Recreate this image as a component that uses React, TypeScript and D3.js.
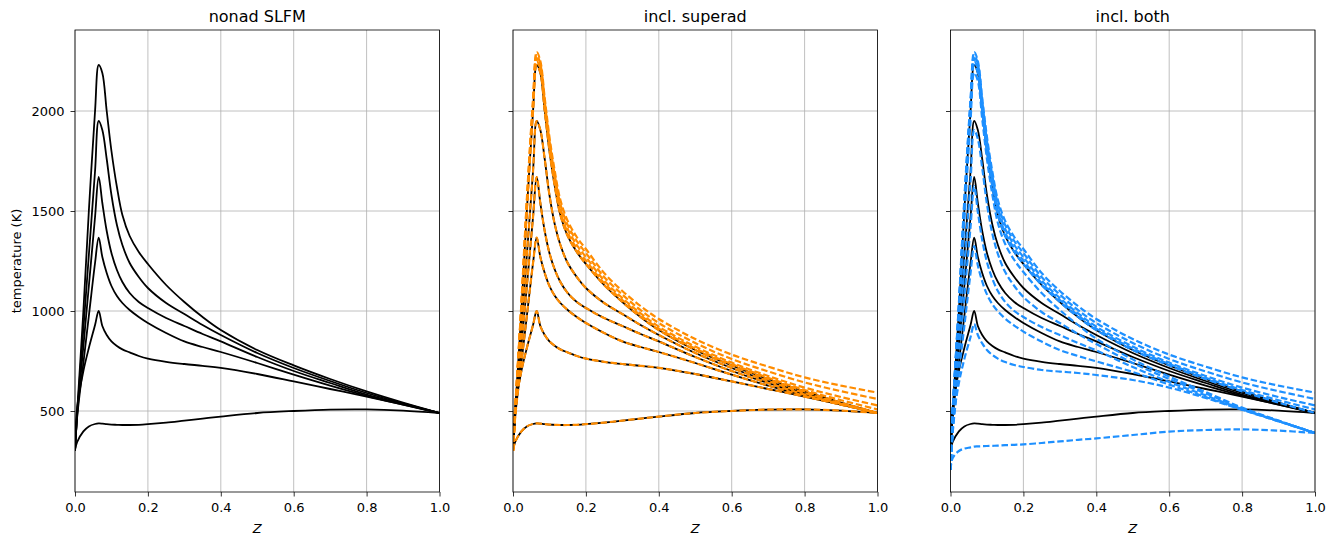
import React, { useEffect, useRef } from 'react';
import * as d3 from 'd3';

// mixture fraction grid shared by all flamelets
const zGrid = [0, 0.006, 0.023, 0.038, 0.055, 0.065, 0.075, 0.087, 0.1, 0.115, 0.13, 0.15, 0.175, 0.2, 0.25, 0.3, 0.35, 0.4, 0.5, 0.6, 0.7, 0.8, 0.9, 1];

// nonadiabatic SLFM temperatures (K), one per strain rate
const tA = [300, 500, 1000, 1500, 2000, 2230, 2190, 2000, 1800, 1620, 1480, 1375, 1295, 1235, 1130, 1045, 970, 905, 805, 728, 660, 598, 542, 490];
const tB = [300, 490, 910, 1280, 1700, 1950, 1905, 1760, 1580, 1430, 1330, 1240, 1170, 1115, 1040, 985, 930, 880, 790, 715, 650, 590, 538, 490];
const tC = [300, 480, 823, 1125, 1470, 1670, 1540, 1400, 1290, 1205, 1145, 1090, 1045, 1015, 965, 925, 885, 848, 770, 700, 640, 582, 535, 490];
const tD = [300, 470, 740, 975, 1240, 1367, 1270, 1190, 1125, 1075, 1040, 1005, 970, 940, 890, 848, 820, 795, 740, 682, 627, 576, 532, 490];
const tE = [300, 520, 700, 815, 930, 1000, 925, 880, 848, 825, 808, 793, 775, 762, 746, 735, 726, 716, 685, 648, 610, 572, 532, 490];
const tF = [305, 345, 398, 423, 435, 438, 437, 434, 432, 431, 430, 430, 431, 434, 442, 452, 462, 472, 490, 500, 507, 508, 502, 490];

// superadiabatic flamelets (heat gain)
const tO1 = [300, 510, 1040, 1560, 2060, 2295, 2250, 2065, 1870, 1695, 1555, 1450, 1370, 1310, 1190, 1100, 1025, 960, 860, 782, 722, 668, 627, 592];
const tO2 = [300, 505, 1030, 1545, 2045, 2280, 2235, 2050, 1850, 1675, 1535, 1430, 1350, 1290, 1170, 1082, 1005, 940, 840, 760, 698, 643, 599, 560];
const tO3 = [300, 505, 1020, 1530, 2030, 2265, 2220, 2035, 1835, 1655, 1515, 1410, 1330, 1270, 1152, 1065, 988, 922, 822, 742, 675, 617, 570, 528];
const tO4 = [300, 500, 1010, 1515, 2015, 2250, 2205, 2018, 1818, 1638, 1498, 1392, 1312, 1252, 1140, 1055, 978, 912, 812, 735, 666, 605, 554, 508];

// heat loss flamelets
const tHA = [205, 420, 950, 1450, 1950, 2190, 2150, 1960, 1760, 1580, 1440, 1335, 1255, 1195, 1090, 1005, 930, 862, 758, 672, 595, 517, 452, 390];
const tHB = [205, 410, 860, 1230, 1650, 1905, 1860, 1715, 1535, 1385, 1285, 1195, 1125, 1070, 995, 940, 885, 835, 740, 660, 588, 512, 451, 390];
const tHC = [205, 400, 775, 1075, 1420, 1625, 1495, 1355, 1245, 1160, 1100, 1045, 1000, 970, 920, 880, 840, 803, 720, 645, 578, 510, 450, 390];
const tHD = [205, 390, 690, 925, 1190, 1325, 1228, 1148, 1083, 1033, 998, 962, 927, 897, 847, 805, 775, 748, 695, 632, 570, 507, 449, 390];
const tHE = [205, 430, 640, 760, 870, 935, 880, 838, 805, 780, 762, 745, 730, 720, 705, 697, 690, 680, 655, 617, 565, 506, 448, 390];
const tHF = [205, 265, 300, 312, 318, 322, 323, 324, 325, 326, 327, 329, 331, 333, 340, 348, 356, 363, 380, 397, 405, 408, 402, 390];

const panelTitles = ['nonad SLFM', 'incl. superad', 'incl. both'];
const xTicks = [0, 0.2, 0.4, 0.6, 0.8, 1.0];
const yTicks = [500, 1000, 1500, 2000];

const blackSet = [tA, tB, tC, tD, tE, tF];
const superSet = [tO1, tO2, tO3, tO4, tA, tB, tC, tD, tE, tF];
const bothSet = [tO1, tO2, tO3, tO4, tA, tHA, tHB, tHC, tHD, tHE, tHF];

const App: React.FC = () => {
  const svgRef = useRef<SVGSVGElement>(null);

  useEffect(() => {
    if (!svgRef.current) return;
    const root = d3.select(svgRef.current);
    root.selectAll('*').remove();

    const font = 'DejaVu Sans, sans-serif';
    const lefts = [75, 513, 950.5];
    const top = 30;
    const width = 364.5;
    const height = 462;

    const x = d3.scaleLinear().domain([0, 1]).range([0, width]);
    const y = d3.scaleLinear().domain([95, 2405]).range([height, 0]);

    const line = d3.line<number>()
      .x((_, i) => x(zGrid[i]))
      .y(d => y(d))
      .curve(d3.curveCatmullRom.alpha(0.5));

    const panels = [
      { black: blackSet, dashed: [] as number[][], color: '' },
      { black: blackSet, dashed: superSet, color: '#ff8c00' },
      { black: blackSet, dashed: bothSet, color: '#1e90ff' },
    ];

    root.append('defs').append('clipPath').attr('id', 'plotClip')
      .append('rect').attr('width', width).attr('height', height);

    panels.forEach((p, k) => {
      const g = root.append('g').attr('transform', `translate(${lefts[k]},${top})`);

      // grid
      g.selectAll('.vgrid').data(xTicks).enter().append('line')
        .attr('x1', d => x(d)).attr('x2', d => x(d))
        .attr('y1', 0).attr('y2', height)
        .attr('stroke', '#b0b0b0').attr('stroke-width', 0.8);
      g.selectAll('.hgrid').data(yTicks).enter().append('line')
        .attr('y1', d => y(d)).attr('y2', d => y(d))
        .attr('x1', 0).attr('x2', width)
        .attr('stroke', '#b0b0b0').attr('stroke-width', 0.8);

      const plot = g.append('g').attr('clip-path', 'url(#plotClip)');
      plot.selectAll('.black').data(p.black).enter().append('path')
        .attr('d', d => line(d))
        .attr('fill', 'none')
        .attr('stroke', '#000')
        .attr('stroke-width', 1.8);
      plot.selectAll('.dash').data(p.dashed).enter().append('path')
        .attr('d', d => line(d))
        .attr('fill', 'none')
        .attr('stroke', p.color)
        .attr('stroke-width', 2.2)
        .attr('stroke-dasharray', '6.5,2.8');

      // axes
      const xAxis = g.append('g')
        .attr('transform', `translate(0,${height})`)
        .call(d3.axisBottom(x).tickValues(xTicks).tickFormat(d3.format('.1f')).tickSize(4.5).tickPadding(6.5));
      const yAxis = g.append('g')
        .call(d3.axisLeft(y).tickValues(yTicks).tickSize(4.5).tickPadding(6)
          .tickFormat(k === 0 ? d3.format('d') : () => ''));
      [xAxis, yAxis].forEach(a => {
        a.select('.domain').remove();
        a.selectAll('line').attr('stroke', '#000').attr('stroke-width', 0.8);
        a.selectAll('text').attr('fill', '#000').style('font-size', '13px').style('font-family', font);
      });

      g.append('rect')
        .attr('width', width).attr('height', height)
        .attr('fill', 'none').attr('stroke', '#000').attr('stroke-width', 0.8);

      g.append('text')
        .attr('x', width / 2).attr('y', -8)
        .attr('text-anchor', 'middle')
        .style('font-size', '16px').style('font-family', font)
        .text(panelTitles[k]);

      g.append('text')
        .attr('x', width / 2).attr('y', height + 41)
        .attr('text-anchor', 'middle')
        .style('font-size', '13px').style('font-family', font).style('font-style', 'italic')
        .text('Z');
    });

    root.append('text')
      .attr('transform', `translate(21,${top + height / 2}) rotate(-90)`)
      .attr('text-anchor', 'middle')
      .style('font-size', '13px').style('font-family', font)
      .text('temperature (K)');
  }, []);

  return (
    <svg ref={svgRef} width={1335} height={545}
      style={{ position: 'absolute', left: 0, top: 0, background: '#fff' }} />
  );
};

export default App;
